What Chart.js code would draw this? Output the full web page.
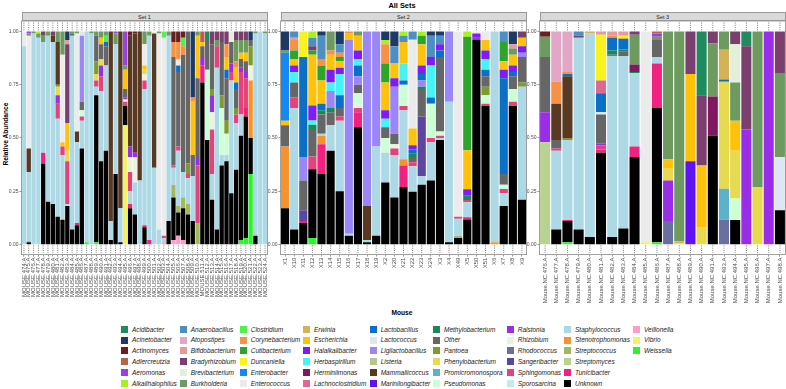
<!DOCTYPE html>
<html><head><meta charset="utf-8">
<script src="https://cdn.jsdelivr.net/npm/chart.js@4.4.1/dist/chart.umd.min.js"></script>
<style>
html,body{margin:0;padding:0;background:#fff;width:786px;height:389px;overflow:hidden;font-family:"Liberation Sans",Arial,sans-serif;}
canvas{position:absolute;}
.t{position:absolute;white-space:nowrap;color:#000;}
.strip{position:absolute;top:12px;height:9.3px;background:#d9d9d9;border:0.7px solid #9a9a9a;box-sizing:border-box;font-size:5.5px;color:#1a1a1a;text-align:center;line-height:8px;}
.lg{position:absolute;font-size:6.5px;font-style:italic;color:#1a1a1a;white-space:nowrap;line-height:7px;}
.sw{position:absolute;width:7px;height:7px;}
</style></head><body>
<div class="t" style="left:402px;top:1px;transform:translateX(-50%);font-weight:bold;font-size:7.4px;">All Sets</div>
<div class="t" style="left:402px;top:309px;transform:translateX(-50%);font-weight:bold;font-size:6.6px;">Mouse</div>
<div class="t" style="left:4.5px;top:133.5px;transform:translate(-50%,-50%) rotate(-90deg);font-weight:bold;font-size:6.6px;">Relative Abundance</div>
<div class="strip" style="left:21.5px;width:246px;">Set 1</div>
<div class="strip" style="left:280.5px;width:246px;">Set 2</div>
<div class="strip" style="left:539.5px;width:246.5px;">Set 3</div>
<canvas id="c1" width="276" height="295" style="left:0px;top:16px;"></canvas>
<canvas id="c2" width="276" height="295" style="left:259px;top:16px;"></canvas>
<canvas id="c3" width="276" height="295" style="left:518px;top:16px;"></canvas>
<div id="legend"></div>
<script>
const genera = ["Acidibacter","Acinetobacter","Actinomyces","Adlercreutzia","Aeromonas","Alkalihalophilus","Anaerobacillus","Atopostipes","Bifidobacterium","Bradyrhizobium","Brevibacterium","Burkholderia","Clostridium","Corynebacterium","Cutibacterium","Duncaniella","Enterobacter","Enterococcus","Erwinia","Escherichia","Halalkalibacter","Herbaspirillum","Herminiimonas","Lachnoclostridium","Lactobacillus","Lactococcus","Ligilactobacillus","Listeria","Mammaliicoccus","Marinilongibacter","Methylobacterium","Other","Pantoea","Phenylobacterium","Promicromonospora","Pseudomonas","Ralstonia","Rhizobium","Rhodococcus","Sangeribacter","Sphingomonas","Sporosarcina","Staphylococcus","Stenotrophomonas","Streptococcus","Streptomyces","Tunicibacter","Unknown","Veillonella","Vibrio","Weissella"];
const codes = ["Aci","Acn","Act","Adl","Aer","Alk","Ana","Ato","Bif","Bra","Bre","Bur","Clo","Cor","Cut","Dun","Enb","Enc","Erw","Esc","Hal","Her","Hem","Lac","Lab","Lcc","Lig","Lis","Mam","Mar","Met","Oth","Pan","Phe","Pro","Pse","Ral","Rhi","Rho","San","Sph","Spo","Sta","Ste","Stc","Stm","Tun","Unk","Vei","Vib","Wei"];
const colors = ["#1f8c5f","#1b3a66","#6a1e22","#b5634b","#9b3fe0","#a6f21c","#4d8fc2","#e2a6c6","#e59a9c","#7b3f6f","#e3efd9","#6c9a5f","#4ef24e","#f79146","#2fa42a","#f9f21d","#1588f2","#ebebeb","#d4b257","#ffc20a","#7d1cf5","#45f5f5","#82185f","#de6a92","#0a6fc6","#dde7f3","#9b86f7","#b2c88e","#583a23","#6212f2","#158c58","#666666","#7f9a2e","#e8da4e","#5cb2ca","#ccffd4","#9a2ee8","#ebf2de","#6a6fa2","#5b47a0","#e2437c","#c2eaea","#add8e6","#f7932c","#a2ba5e","#b8d38f","#f2207e","#000000","#ff9ccc","#f2f262","#2ef22e"];

const set1Labels = ["MOUSE.474.A","MOUSE.475.A","MOUSE.476.A","MOUSE.477.A","MOUSE.478.A","MOUSE.479.A","MOUSE.480.A","MOUSE.481.A","MOUSE.482.A","MOUSE.483.A","MOUSE.484.A","MOUSE.485.A","MOUSE.486.A","MOUSE.487.A","MOUSE.488.A","MOUSE.489.A","MOUSE.490.A","MOUSE.491.A","MOUSE.492.A","MOUSE.493.A","MOUSE.494.A","MOUSE.495.A","MOUSE.496.A","MOUSE.497.A","MOUSE.498.A","MOUSE.499.A","MOUSE.500.A","MOUSE.501.A","MOUSE.502.A","MOUSE.503.A","MOUSE.504.A","MOUSE.505.A","MOUSE.506.A","MOUSE.507.A","MOUSE.508.A","MOUSE.509.A","MOUSE.510.A","MOUSE.511.A","MOUSE.512.A","MOUSE.513.A","MOUSE.514.A","MOUSE.515.A","MOUSE.516.A","MOUSE.517.A","MOUSE.518.A","MOUSE.519.A","MOUSE.520.A","MOUSE.521.A","MOUSE.522.A","MOUSE.523.A","MOUSE.524.A"];
const set2Labels = ["X1","X10","X11","X12","X13","X14","X15","X16","X17","X18","X19","X2","X20","X21","X22","X23","X24","X3","X4","X49","X5","X50","X51","X6","X7","X8","X9"];
const set3Labels = ["Mouse.NC.476.A","Mouse.NC.477.A","Mouse.NC.478.A","Mouse.NC.479.A","Mouse.NC.480.A","Mouse.NC.481.A","Mouse.NC.482.A","Mouse.NC.483.A","Mouse.NC.484.A","Mouse.NC.485.A","Mouse.NC.486.A","Mouse.NC.487.A","Mouse.NC.488.A","Mouse.NC.489.A","Mouse.NC.490.A","Mouse.NC.491.A","Mouse.NC.493.A","Mouse.NC.494.A","Mouse.NC.495.A","Mouse.NC.496.A","Mouse.NC.497.A","Mouse.NC.498.A"];

const set1Bars = [
{Enc:.07,Sta:.93},
{Bur:.01,Enc:.53,Mam:.11,Aer:.01,Sta:.325,Ste:.005,Unk:.01},
{Bur:.01,Sta:.99},
{Alk:.01,Bur:.02,Sta:.97},
{Bra:.02,Bur:.03,Tun:.05,Sta:.52,Unk:.38},
{Bur:.02,Sta:.78,Unk:.20},
{Bra:.02,Mam:.03,Sta:.76,Unk:.19},
{Bur:.05,Mam:.20,Pan:.01,Phe:.04,Ral:.04,Sph:.07,Sta:.46,Unk:.13},
{Bur:.11,Enc:.41,Esc:.02,Sph:.04,Sta:.30,Ste:.005,Unk:.115},
{Acn:.04,Bif:.02,Bra:.37,Esc:.13,Phe:.05,Sph:.20,Sta:.01,Unk:.18},
{Bur:.01,Oth:.01,Sta:.91,Unk:.07},
{Bur:.01,Enc:.46,Mam:.05,Sta:.38,Tun:.01,Unk:.09},
{Lcc:.02,Lig:.31,Oth:.04,Pse:.03,Sph:.02,Sta:.13,Unk:.45},
{Sta:.99,Wei:.01},
{Bur:.01,Sta:.99},
{Bur:.02,Oth:.12,Pan:.06,Phe:.03,Sph:.03,Sta:.04,Unk:.69,Wei:.01},
{Bur:.03,Esc:.03,Oth:.07,Phe:.03,Ral:.05,Sph:.07,Sta:.33,Unk:.39},
{Bur:.02,Clo:.03,Lab:.02,Oth:.09,Sta:.40,Unk:.44},
{Mam:.89,Sta:.09,Unk:.02},
{Aer:.01,Bur:.05,Sta:.61,Unk:.33},
{Mam:.83,Sta:.16,Unk:.01},
{Aer:.16,Bur:.02,Esc:.09,Oth:.04,Ral:.01,Rhi:.01,Sph:.02,Unk:.09,Vib:.56},
{Act:.02,Mam:.52,Ral:.05,Rhi:.07,Sph:.09,Sta:.06,Tun:.02,Unk:.17},
{Act:.01,Mam:.56,Ral:.02,Rhi:.12,Sta:.15,Unk:.14},
{Mam:.70,Sta:.30},
{Bur:.06,Enc:.10,Esc:.02,Phe:.02,Rhi:.03,Sph:.04,Sta:.64,Tun:.01,Unk:.08},
{Bur:.02,Tun:.02,Sta:.96},
{Enc:.01,Mam:.63,Sta:.36},
{Bur:.01,Enc:.92,Sta:.07},
{Clo:.03,Enc:.93,Sph:.01,Sta:.02,Vei:.01},
{Bur:.02,Sta:.87,Unk:.11},
{Act:.05,Cor:.07,Oth:.51,Sph:.01,Sta:.08,Stc:.06,Unk:.20,Vei:.02},
{Act:.05,Cor:.08,Enc:.03,Lab:.03,Oth:.35,Sph:.02,Sta:.26,Stc:.03,Unk:.11,Vei:.04},
{Act:.03,Clo:.04,Cor:.04,Oth:.55,Sta:.12,Stc:.05,Unk:.15,Vei:.02},
{Oth:.62,Pan:.05,Sph:.02,Sta:.12,Stc:.05,Unk:.14},
{Acn:.31,Cor:.02,Esc:.25,Oth:.10,Sta:.21,Unk:.11},
{Bur:.02,Esc:.20,Oth:.37,Ral:.04,Sph:.27,Stc:.10},
{Adl:.05,Esc:.02,Oth:.05,Ral:.04,Tun:.08,Unk:.76},
{Aci:.04,Oth:.14,Pse:.33,Unk:.49},
{Bra:.06,Oth:.21,Pan:.03,Ral:.08,Rhi:.08,Sph:.21,Sta:.12,Unk:.21},
{Bra:.04,Bur:.03,Sph:.10,Sta:.76,Unk:.07},
{Bra:.05,Oth:.25,Pan:.06,Pse:.22,Sta:.05,Unk:.37},
{Bra:.06,Cor:.06,Esc:.06,Lab:.04,Oth:.20,Pan:.06,Pse:.10,Sta:.03,Unk:.39},
{Bre:.05,Oth:.10,Ral:.04,Sph:.04,Sta:.53,Unk:.24},
{Bra:.04,Bur:.10,Cor:.03,Esc:.07,Lab:.03,Oth:.09,Pan:.03,Sph:.04,Sta:.22,Unk:.35},
{Bra:.04,Bur:.06,Esc:.03,Oth:.04,Ral:.02,Sph:.20,Sta:.10,Unk:.49,Wei:.02},
{Bra:.04,Bur:.06,Esc:.04,Oth:.05,Ral:.03,Sph:.14,Tun:.04,Unk:.57,Wei:.03},
{Acn:.04,Oth:.03,Pan:.09,Rhi:.07,Ste:.27,Unk:.17,Wei:.33},
{Bur:.01,Sta:.95,Unk:.04},
{Sta:1},
{Bur:.01,Sta:.99}
];

const set2Bars = [
{Acn:.09,Bur:.01,Enb:.32,Esc:.02,Oth:.10,Ste:.29,Unk:.17},
{Bif:.01,Ana:.03,Cor:.05,Cut:.04,Esc:.03,Hal:.03,Her:.05,Oth:.07,Sph:.05,Sta:.57,Unk:.07},
{Dun:.12,Lab:.47,Lig:.11,Oth:.14,San:.05,Tun:.01,Unk:.10},
{Alk:.03,Ana:.04,Bra:.02,Cut:.02,Esc:.24,Hal:.07,Her:.02,Met:.02,Oth:.13,Sph:.06,Unk:.325,Wei:.03},
{Acn:.02,Ana:.11,Cor:.03,Cut:.07,Esc:.11,Lab:.03,Met:.02,Oth:.09,Ste:.04,Tun:.14,Sta:.01,Unk:.33},
{Bur:.09,Cor:.02,Esc:.07,Hal:.06,Her:.04,Lig:.08,Met:.02,Oth:.06,Sta:.12,Unk:.44},
{Acn:.06,Ana:.04,Cor:.02,Cut:.02,Esc:.03,Hal:.03,Her:.10,Lab:.06,Oth:.04,Sph:.02,Sta:.33,Unk:.25},
{Esc:.03,Cor:.01,Lig:.91,Sta:.01,Unk:.04},
{Bur:.02,Esc:.07,Hal:.04,Her:.03,Lab:.05,Lig:.04,Oth:.04,Pse:.05,Rhi:.02,Sph:.02,Tun:.07,Unk:.55},
{Lig:.82,Mam:.16,Sta:.01,Unk:.01},
{Lig:.54,Sta:.42,Unk:.04},
{Acn:.04,Alk:.02,Cor:.09,Cut:.09,Esc:.13,Hal:.04,Her:.04,Oth:.05,Pse:.07,Sta:.14,Unk:.29},
{Acn:.07,Ana:.08,Esc:.07,Hal:.04,Lig:.22,Oth:.05,Rhi:.02,Sph:.03,Sta:.20,Unk:.22},
{Alk:.02,Ana:.03,Esc:.10,Her:.08,Lab:.02,Pse:.10,Sph:.02,Sta:.23,Ste:.03,Tun:.10,Unk:.27},
{Ana:.04,Enc:.42,Esc:.08,Hal:.02,Lab:.02,Met:.02,Oth:.02,Sph:.02,Sta:.12,Unk:.25},
{Alk:.02,Cut:.04,Esc:.10,Lab:.03,Hal:.04,Lig:.03,Oth:.13,Met:.01,San:.28,Sta:.04,Unk:.28},
{Acn:.02,Ana:.10,Lab:.03,Hal:.04,Her:.15,Pse:.16,Sph:.02,Sta:.18,Unk:.30},
{Acn:.02,Ana:.04,Lab:.03,Hal:.03,Oth:.35,Pse:.02,Sph:.01,Sta:.01,Unk:.49},
{Lig:.33,Sta:.66,Unk:.01},
{Enc:.87,Stc:.01,Sta:.08,Sph:.01,Unk:.03},
{Alk:.025,Cut:.525,Esc:.18,Hal:.03,Met:.02,Sph:.01,Sta:.07,Tun:.01,Unk:.115},
{Enc:.01,Hal:.02,Ral:.01,Unk:.96},
{Enc:.04,Esc:.05,Hal:.04,Her:.05,Lab:.03,Oth:.05,Pan:.04,Pse:.04,Sph:.01,Unk:.65},
{Sta:.99,Ste:.01},
{Ana:.05,Cut:.09,Esc:.04,Hal:.04,Lab:.45,Oth:.05,Pse:.02,Sph:.02,Sta:.06,Unk:.18},
{Acn:.06,Bif:.02,Bur:.03,Esc:.05,Hal:.03,Lab:.02,Oth:.06,Pse:.06,Sph:.02,Unk:.65},
{Bra:.03,Esc:.04,Hal:.03,Lig:.02,Oth:.12,Pan:.02,Sta:.53,Unk:.21}
];

const set3Bars = [
{Act:.025,Bur:.095,Oth:.26,Ral:.14,Stm:.48},
{Ato:.235,Cor:.105,Mam:.17,Oth:.04,Sph:.01,Sta:.37,Unk:.07},
{Ato:.19,Cor:.01,Lab:.01,Mam:.29,Pan:.01,Sta:.375,Tun:.005,Unk:.10,Wei:.01},
{Bra:.01,Ana:.02,Sta:.90,Unk:.07},
{Erw:.01,Sta:.955,Unk:.035},
{Bif:.015,Dun:.215,Lac:.06,Lab:.09,Lcc:.01,Oth:.135,Ral:.01,Sph:.02,Tun:.015,Unk:.43},
{Bif:.02,Cor:.01,Lab:.06,Met:.02,Sta:.85,Sph:.005,Unk:.035},
{Bif:.02,Dun:.01,Lab:.05,Met:.01,Oth:.02,Sta:.81,Erw:.005,Unk:.075},
{Bra:.015,Bur:.14,Hem:.035,Met:.005,Sta:.345,Tun:.05,Unk:.41},
{Enc:.99,Vib:.01},
{Adl:.01,Aer:.015,Bur:.015,Oth:.08,Sta:.03,Tun:.21,Unk:.63,Wei:.01},
{Bur:.60,Esc:.045,Phe:.055,Ral:.19,Rho:.11},
{Bur:.985,Erw:.01,Phe:.005},
{Bra:.20,Esc:.41,Mar:.39},
{Aci:.30,Bra:.33,Esc:.29,Phe:.08},
{Bra:.055,Bur:.25,Hem:.185,Unk:.51},
{Bur:.085,Lab:.01,Erw:.14,Phe:.50,Pro:.145,Rho:.115},
{Bra:.06,Bre:.18,Bur:.18,Esc:.14,Phe:.225,Pse:.10,Unk:.115},
{Aci:.07,Bra:.39,Ral:.54},
{Bur:.73,Phe:.27},
{Ral:1},
{Bra:.195,Bur:.395,Lcc:.25,Unk:.16}
];

const yTicks = [0, 0.25, 0.5, 0.75, 1];
const FONT = '"Liberation Sans", Arial, sans-serif';

function buildDatasets(bars){
  const sums = bars.map(b => Object.values(b).reduce((a,v)=>a+v,0));
  const ds = [];
  for (let gi = codes.length-1; gi >= 0; gi--){
    const c = codes[gi];
    ds.push({
      label: genera[gi],
      data: bars.map((b,i) => (b[c]||0)/sums[i]),
      backgroundColor: colors[gi],
      borderWidth: 0,
      barPercentage: 0.9,
      categoryPercentage: 1,
      stack: 's'
    });
  }
  return ds;
}

const panelPlugin = {
  id: 'panelDeco',
  afterDatasetsDraw(chart){
    const {ctx, chartArea:a, scales:{x, y}} = chart;
    ctx.save();
    ctx.strokeStyle = '#3a3a3a';
    ctx.lineWidth = 0.7;
    ctx.setLineDash([1, 1.3]);
    const yt0 = y.getPixelForValue(1.049), yt1 = y.getPixelForValue(1.0);
    const yb0 = y.getPixelForValue(0), yb1 = y.getPixelForValue(-0.048);
    for (let i = 0; i < chart.data.labels.length; i++){
      const px = x.getPixelForValue(i);
      ctx.beginPath();
      ctx.moveTo(px, yt0 + 1.5); ctx.lineTo(px, yt1 - 1);
      ctx.moveTo(px, yb0 + 1); ctx.lineTo(px, yb1 - 1.5);
      ctx.stroke();
    }
    ctx.setLineDash([]);
    ctx.strokeStyle = '#8a8a8a';
    ctx.lineWidth = 0.8;
    ctx.strokeRect(a.left, a.top, a.right - a.left, a.bottom - a.top);
    ctx.restore();
  }
};

function makePanel(id, labels, bars){
  new Chart(document.getElementById(id), {
    type: 'bar',
    data: { labels: labels, datasets: buildDatasets(bars) },
    options: {
      responsive: false, animation: false, devicePixelRatio: 1,
      layout: { padding: { left: 0, right: 8.5, top: 5, bottom: 0 } },
      plugins: { legend: { display: false }, tooltip: { enabled: false }, title: { display: false } },
      scales: {
        x: {
          stacked: true, offset: true,
          grid: { display: true, offset: false, drawOnChartArea: false, drawTicks: true, tickLength: 2, color: '#333', lineWidth: 0.5 },
          border: { display: false },
          ticks: { autoSkip: false, maxRotation: 90, minRotation: 90, padding: 1, color: '#4d4d4d', font: { size: 6, family: FONT } },
          afterFit(s){ s.height = 56.4; }
        },
        y: {
          stacked: true, min: -0.048, max: 1.049,
          afterBuildTicks(s){ s.ticks = yTicks.map(v => ({ value: v })); },
          grid: { display: true, drawOnChartArea: false, drawTicks: true, tickLength: 2, color: '#333', lineWidth: 0.5 },
          border: { display: false },
          ticks: { padding: 1, color: '#4d4d4d', font: { size: 5, family: FONT }, callback: v => Number(v).toFixed(2) },
          afterFit(s){ s.width = 21.5; }
        }
      }
    },
    plugins: [panelPlugin]
  });
}

makePanel('c1', set1Labels, set1Bars);
makePanel('c2', set2Labels, set2Bars);
makePanel('c3', set3Labels, set3Bars);

// legend (column-major, 6 rows)
const legCols = [121, 179.7, 239.7, 303, 369.7, 433, 506.7, 564, 633];
const legRow0 = 329.3, legRowH = 10.8;
const legend = document.getElementById('legend');
genera.forEach((g, i) => {
  const col = Math.floor(i / 6), row = i % 6;
  const yc = legRow0 + row * legRowH;
  const sw = document.createElement('div');
  sw.className = 'sw';
  sw.style.left = legCols[col] + 'px';
  sw.style.top = (yc - 3.5) + 'px';
  sw.style.background = colors[i];
  legend.appendChild(sw);
  const tx = document.createElement('div');
  tx.className = 'lg';
  tx.style.left = (legCols[col] + 11) + 'px';
  tx.style.top = (yc - 3.7) + 'px';
  tx.textContent = g;
  legend.appendChild(tx);
});
</script>
</body></html>
